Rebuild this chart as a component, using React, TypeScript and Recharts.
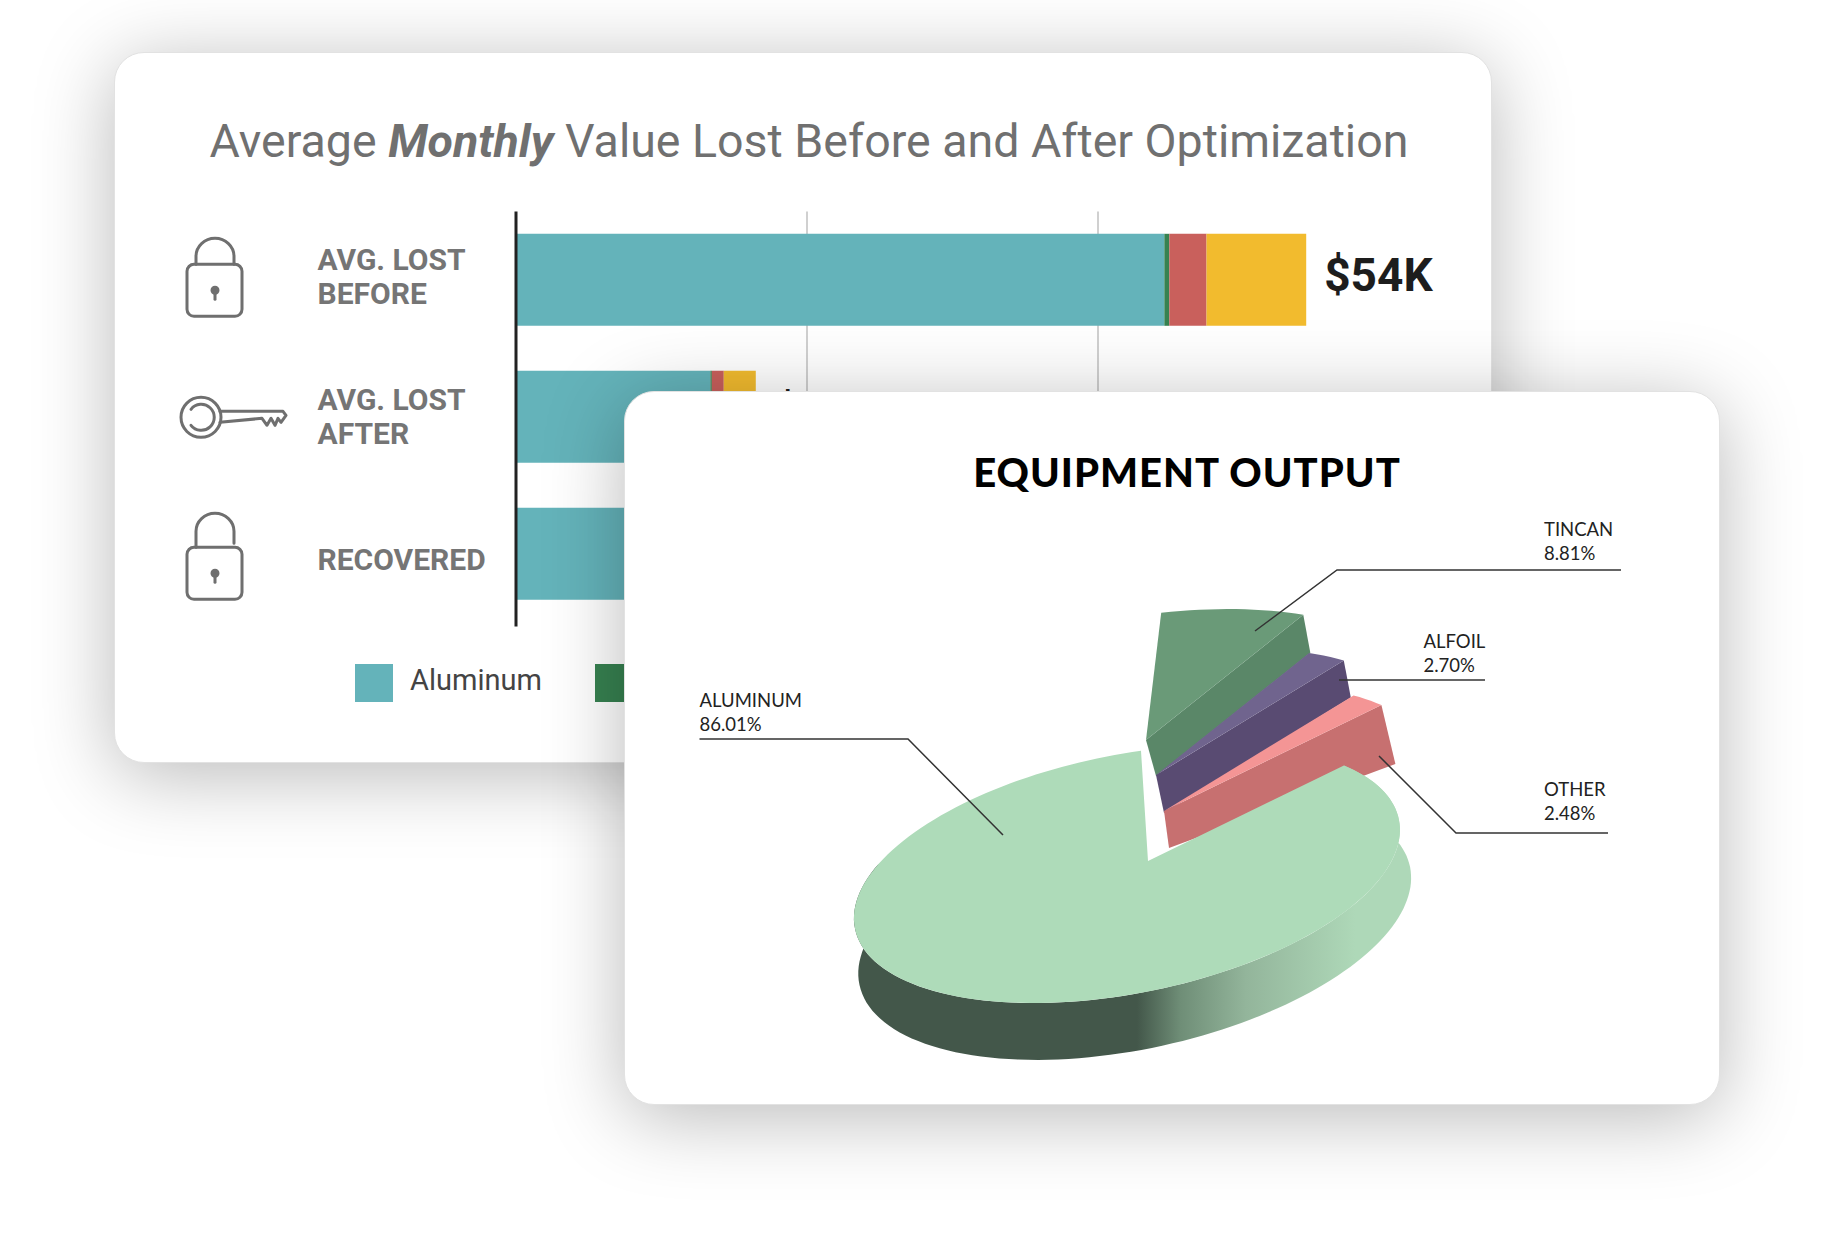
import { Bar, BarChart, CartesianGrid, LabelList, Legend, Pie, PieChart, XAxis, YAxis } from "recharts";

const stages = ["AVG. LOST BEFORE", "AVG. LOST AFTER", "RECOVERED"];
const stageLines: Record<string, string[]> = {
  "AVG. LOST BEFORE": ["AVG. LOST", "BEFORE"],
  "AVG. LOST AFTER": ["AVG. LOST", "AFTER"],
  RECOVERED: ["RECOVERED"],
};
const aluminumLost = [44.56, 13.36, 31.0];
const tincanLost = [0.34, 0.1, 0.2];
const alfoilLost = [2.56, 0.82, 1.7];
const otherLost = [6.85, 2.2, 4.8];
const totalLabels = ["$54K", "$16K", "$38K"];
const gridValues = [20, 40];

const materials = ["TINCAN", "ALFOIL", "OTHER", "ALUMINUM"];
const shares = [8.81, 2.7, 2.48, 86.01];

const barData = stages.map((stage, i) => ({
  stage,
  aluminum: aluminumLost[i],
  tincan: tincanLost[i],
  alfoil: alfoilLost[i],
  other: otherLost[i],
  total: totalLabels[i],
}));
const pieData = materials.map((name, i) => ({ name, value: shares[i] }));

// apex offset, radius scale, cut face depth (inner and outer end) per slice
const sliceStyle: Record<string, any> = {
  TINCAN: { top: "#6a9a78", side: "#5a8768", dx: -2, dy: -121, scale: 1.13, inner: [10, 36], outer: [7, 38], trim: 0 },
  ALFOIL: { top: "#70648e", side: "#594b72", dx: 8, dy: -86, scale: 1.1, inner: [8, 38], outer: [7, 37], trim: 0 },
  OTHER: { top: "#f49595", side: "#c77070", dx: 16, dy: -50, scale: 1.11, inner: [5, 37], outer: [14, 59], trim: 0 },
  ALUMINUM: { top: "#aedbb9", dx: 0, dy: 0, scale: 1, trim: 4.7 },
};

const labelLayout: Record<string, any> = {
  TINCAN: { x: 919, y: 144, line: "630,239 712,178 996,178" },
  ALFOIL: { x: 798.5, y: 256, line: "714,288 860,288" },
  ALUMINUM: { x: 74.5, y: 315, line: "378,443 283,347 74.5,347" },
  OTHER: { x: 919, y: 404, line: "754,364 831,441 983,441" },
};

// per row nudges for the axis text and icons
const rowTextShift = [-3.5, 0, 5.9];
const rowIconShift = [0, 0, 1];

// tilted disc: unit circle to screen with a little perspective
function project(deg: number) {
  const c = Math.cos((deg * Math.PI) / 180);
  const s = -Math.sin((deg * Math.PI) / 180);
  const w = 1 + 0.077 * c - 0.08 * s;
  return { x: (270.5 * c) / w, y: (-43 * c + 120 * s) / w, w, c };
}

function arcAngles(from: number, to: number) {
  const out: number[] = [];
  const n = Math.max(2, Math.ceil(Math.abs(to - from) / 2));
  for (let i = 0; i <= n; i++) out.push(from + ((to - from) * i) / n);
  return out;
}

const toPath = (pts: number[][]) => "M" + pts.map((p) => p[0].toFixed(1) + " " + p[1].toFixed(1)).join("L") + "Z";

function Slice3D(props: any) {
  const { cx, cy, startAngle, endAngle, name } = props;
  const st = sliceStyle[name ?? props.payload?.name];
  if (!st) return null;
  const ax = cx + st.dx;
  const ay = cy + st.dy;
  const end = endAngle + st.trim;
  const rimPoint = (a: number) => {
    const p = project(a);
    return { x: ax + st.scale * p.x, y: ay + st.scale * p.y, w: p.w, c: p.c };
  };
  const rim = arcAngles(startAngle, end).map(rimPoint);
  const top = toPath([[ax, ay], ...rim.map((p) => [p.x, p.y])]);
  if (st.side) {
    const last = rim[rim.length - 1];
    const face = toPath([
      [ax, ay],
      [last.x, last.y],
      [last.x + st.outer[0], last.y + st.outer[1]],
      [ax + st.inner[0], ay + st.inner[1]],
    ]);
    return (
      <g>
        <path d={face} fill={st.side} />
        <path d={top} fill={st.top} />
      </g>
    );
  }
  // the wall stops past the left extreme so it does not show in the gap
  const wallRim = arcAngles(startAngle, startAngle - 235).map(rimPoint);
  const wall = toPath([
    ...wallRim.map((p) => [p.x, p.y]),
    ...[...wallRim].reverse().map((p) => [p.x + (8 + 4 * p.c) / p.w, p.y + 51 / p.w]),
  ]);
  return (
    <g>
      <path d={wall} fill="url(#wallGrad)" />
      <path d={top} fill={st.top} />
    </g>
  );
}

function StageIcon({ index }: { index: number }) {
  const common = { fill: "none", stroke: "#6f6f6f", strokeWidth: 3, strokeLinecap: "round" as const, strokeLinejoin: "round" as const };
  if (index === 1) {
    return (
      <g {...common}>
        <circle cx={86} cy={0} r={20} />
        <path d="M76 -8 A13 13 0 1 1 76 8" />
        <path d="M105 -6 L168 -6 L171 -2 L166 5 L163 1 L160 8 L156 1 L152 8 L147 1 L105 5" />
      </g>
    );
  }
  const shackle = index === 0 ? "M81 -16 L81 -24 A19 18 0 0 1 119 -24 L119 -16" : "M81 -8 L81 -24 A19 18 0 0 1 119 -24 L119 -12";
  const bodyY = index === 0 ? -16 : -8;
  return (
    <g {...common}>
      <path d={shackle} />
      <rect x={72} y={bodyY} width={55} height={52} rx={7} />
      <circle cx={100} cy={bodyY + 26} r={3} fill="#6f6f6f" />
      <path d={`M100 ${bodyY + 27} L100 ${bodyY + 35}`} />
    </g>
  );
}

function StageTick(props: any) {
  const { y, payload, index } = props;
  const lines = stageLines[payload.value] ?? [payload.value];
  return (
    <g transform={`translate(0,${y})`}>
      <g transform={`translate(0,${rowIconShift[index]})`}>
        <StageIcon index={index} />
      </g>
      {lines.map((line: string, i: number) => (
        <text
          key={line}
          x={202.5}
          y={(i - (lines.length - 1) / 2) * 34 + 10 + rowTextShift[index]}
          fontFamily="Roboto"
          fontWeight={700}
          fontSize={30}
          fill="#757575"
        >
          {line}
        </text>
      ))}
    </g>
  );
}

function TotalLabel(props: any) {
  const { x, y, width, height, value } = props;
  return (
    <text x={x + width + 18} y={y + height / 2 + 11.5} fontFamily="Roboto" fontWeight={700} fontSize={46} fill="#1d1d1d">
      {value}
    </text>
  );
}

function MaterialLegend({ payload }: any) {
  return (
    <div style={{ display: "flex" }}>
      {(payload ?? []).map((item: any) => (
        <div key={item.value} style={{ width: 240, display: "flex", alignItems: "center", flex: "none" }}>
          <span style={{ width: 38, height: 38, background: item.color, marginRight: 17, flex: "none" }} />
          <span style={{ fontFamily: "Roboto", fontSize: 29, color: "#444", position: "relative", top: -3 }}>{item.value}</span>
        </div>
      ))}
    </div>
  );
}

const cardStyle = {
  position: "absolute" as const,
  background: "#fff",
  borderRadius: 30,
  boxSizing: "border-box" as const,
  border: "1px solid #e2e2e2",
  boxShadow: "0 12px 80px rgba(0,0,0,0.28)",
};

export default function App() {
  return (
    <div style={{ position: "absolute", left: 0, top: 0, width: 1833, height: 1236, background: "#fff", overflow: "hidden" }}>
      <div style={{ ...cardStyle, left: 113.5, top: 51.5, width: 1378, height: 711 }}>
        <div
          style={{
            position: "absolute",
            left: 13,
            right: 0,
            top: 58,
            textAlign: "center",
            fontFamily: "Roboto",
            fontSize: 46.5,
            lineHeight: "60px",
            color: "#707070",
            whiteSpace: "nowrap",
          }}
        >
          Average <b style={{ fontStyle: "italic" }}>Monthly</b> Value Lost Before and After Optimization
        </div>
        <BarChart
          width={1376}
          height={709}
          data={barData}
          layout="vertical"
          margin={{ top: 158.5, right: 102, bottom: 135.5, left: 0 }}
          barSize={92}
          style={{ position: "absolute", left: 0, top: 0 }}
        >
          <CartesianGrid horizontal={false} stroke="#d0d0d0" strokeWidth={2} verticalValues={gridValues} />
          <XAxis type="number" domain={[0, 60]} ticks={[0, ...gridValues]} hide />
          <YAxis
            type="category"
            dataKey="stage"
            width={401}
            tick={<StageTick />}
            tickLine={false}
            axisLine={{ stroke: "#222", strokeWidth: 3 }}
            interval={0}
            padding={{ top: 0.3, bottom: 3.7 }}
          />
          <Legend
            content={<MaterialLegend />}
            verticalAlign="middle"
            itemSorter={null}
            wrapperStyle={{ left: 240.5, top: 611.5, width: 1000, bottom: "auto" }}
          />
          <Bar dataKey="aluminum" name="Aluminum" stackId="a" fill="#64b3ba" isAnimationActive={false} />
          <Bar dataKey="tincan" name="Tincan" stackId="a" fill="#378251" isAnimationActive={false} />
          <Bar dataKey="alfoil" name="Alfoil" stackId="a" fill="#c9605c" isAnimationActive={false} />
          <Bar dataKey="other" name="Other" stackId="a" fill="#f2bb2e" isAnimationActive={false}>
            <LabelList dataKey="total" content={<TotalLabel />} />
          </Bar>
        </BarChart>
      </div>

      <div style={{ ...cardStyle, left: 624, top: 391, width: 1096, height: 714 }}>
        <PieChart width={1094} height={712} style={{ position: "absolute", left: 0, top: 0 }}>
          <defs>
            <linearGradient id="wallGrad" gradientUnits="userSpaceOnUse" x1={512} y1={0} x2={730} y2={0}>
              <stop offset="0%" stopColor="#43574a" />
              <stop offset="20%" stopColor="#6f8e77" />
              <stop offset="50%" stopColor="#93b59b" />
              <stop offset="100%" stopColor="#aed8b8" />
            </linearGradient>
          </defs>
          <Pie
            data={pieData}
            dataKey="value"
            nameKey="name"
            cx={518}
            cy={464}
            outerRadius={100}
            startAngle={86.9}
            endAngle={-273.1}
            stroke="none"
            shape={Slice3D}
            isAnimationActive={false}
          />
        </PieChart>
        <div
          style={{
            position: "absolute",
            left: 0,
            top: 54,
            width: 1094,
            paddingLeft: 30,
            boxSizing: "border-box",
            textAlign: "center",
            fontFamily: "Lato",
            fontWeight: 900,
            fontSize: 40,
            letterSpacing: 1,
            lineHeight: "52px",
            color: "#000",
          }}
        >
          EQUIPMENT OUTPUT
        </div>
        <svg width={1094} height={712} style={{ position: "absolute", left: 0, top: 0 }}>
          {pieData.map((d) => {
            const l = labelLayout[d.name];
            return (
              <g key={d.name} fontFamily="Lato" fontSize={18.5} fill="#222">
                <polyline points={l.line} fill="none" stroke="#333" strokeWidth={1.5} />
                <text x={l.x} y={l.y}>
                  {d.name}
                </text>
                <text x={l.x} y={l.y + 24}>
                  {d.value.toFixed(2)}%
                </text>
              </g>
            );
          })}
        </svg>
      </div>
    </div>
  );
}
